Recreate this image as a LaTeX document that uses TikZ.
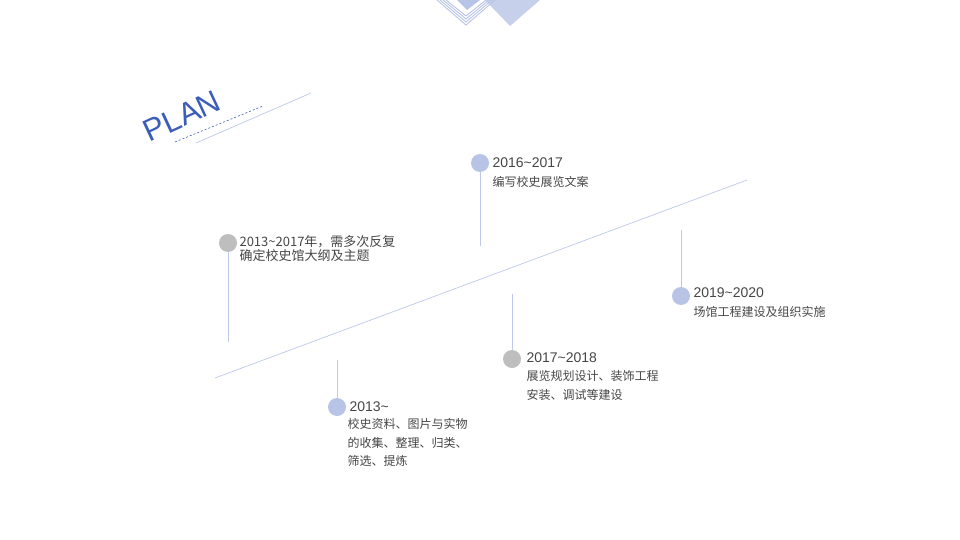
\documentclass[tikz,border=0pt]{standalone}
\usepackage{fontspec}
\setmainfont{Liberation Sans}
\newfontfamily\cjk{Noto Sans CJK SC}
\definecolor{lb}{RGB}{184,196,230}
\definecolor{ln}{RGB}{190,200,232}
\definecolor{pb}{RGB}{60,92,185}
\definecolor{gr}{RGB}{190,190,190}
\definecolor{tx}{RGB}{70,70,70}
\begin{document}
\begin{tikzpicture}[x=1pt,y=-1pt,
  thin line/.style={draw=ln, line width=0.7pt},
  dotb/.style={circle, minimum size=18pt, inner sep=0pt},
  dotblue/.style={dotb, fill=lb},
  dotgray/.style={dotb, fill=gr},
  yr/.style={anchor=west, font=\fontsize{14}{15}\selectfont, text=tx},
  desc/.style={anchor=north west, align=left, font=\cjk\fontsize{12}{18.5}\selectfont, text=tx}]
\useasboundingbox (0,0) rectangle (960,540);
% top decoration
\fill[lb!80] (485,0) -- (540,0) -- (510,26) -- cycle;
\fill[lb] (457,0) -- (480,0) -- (467,10) -- cycle;
\foreach \d in {0,3,6,9}{
  \draw[lb, line width=0.9pt] (446-\d,0) -- (466,{16+\d}) -- (486+\d,0);}
% PLAN
\node[rotate=25, text=pb, font=\fontsize{31}{32}\selectfont] (plan) at (182,116) {PLAN};
\coordinate (d1) at (175,142); \coordinate (d2) at (263,106);
\draw[pb, dash pattern=on 2pt off 2pt, line width=0.6pt] (d1) -- (d2);
\coordinate (s1) at (196,143); \coordinate (s2) at (311,93);
\draw[thin line] (s1) -- (s2);
% main line
\coordinate (m1) at (215,378); \coordinate (m2) at (747,180);
\draw[thin line] (m1) -- (m2);
% items
\node[dotgray] (c1) at (228,243) {};
\coordinate (e1) at (228,342); \draw[thin line] (c1) -- (e1);
\node[yr, align=left, font=\cjk\fontsize{13}{14}\selectfont] (t1) at (236,249) {2013\textasciitilde2017年，需多次反复\\确定校史馆大纲及主题};

\node[dotblue] (c2) at (337,407) {};
\coordinate (e2) at (337,360); \draw[thin line] (c2) -- (e2);
\node[yr] (y2) at (346,407) {2013\textasciitilde};
\node[desc] (t2) at (344,415) {校史资料、图片与实物\\的收集、整理、归类、\\筛选、提炼};

\node[dotblue] (c3) at (480,163) {};
\coordinate (e3) at (480,246); \draw[thin line] (c3) -- (e3);
\node[yr] (y3) at (489,163) {2016\textasciitilde2017};
\node[desc] (t3) at (489,173) {编写校史展览文案};

\node[dotgray] (c4) at (512,359) {};
\coordinate (e4) at (512,294); \draw[thin line] (c4) -- (e4);
\node[yr] (y4) at (523,358) {2017\textasciitilde2018};
\node[desc] (t4) at (523,367) {展览规划设计、装饰工程\\安装、调试等建设};

\node[dotblue] (c5) at (681,296) {};
\coordinate (e5) at (681,230); \draw[thin line] (c5) -- (e5);
\node[yr] (y5) at (690,293) {2019\textasciitilde2020};
\node[desc] (t5) at (690,303) {场馆工程建设及组织实施};
\end{tikzpicture}
\end{document}
